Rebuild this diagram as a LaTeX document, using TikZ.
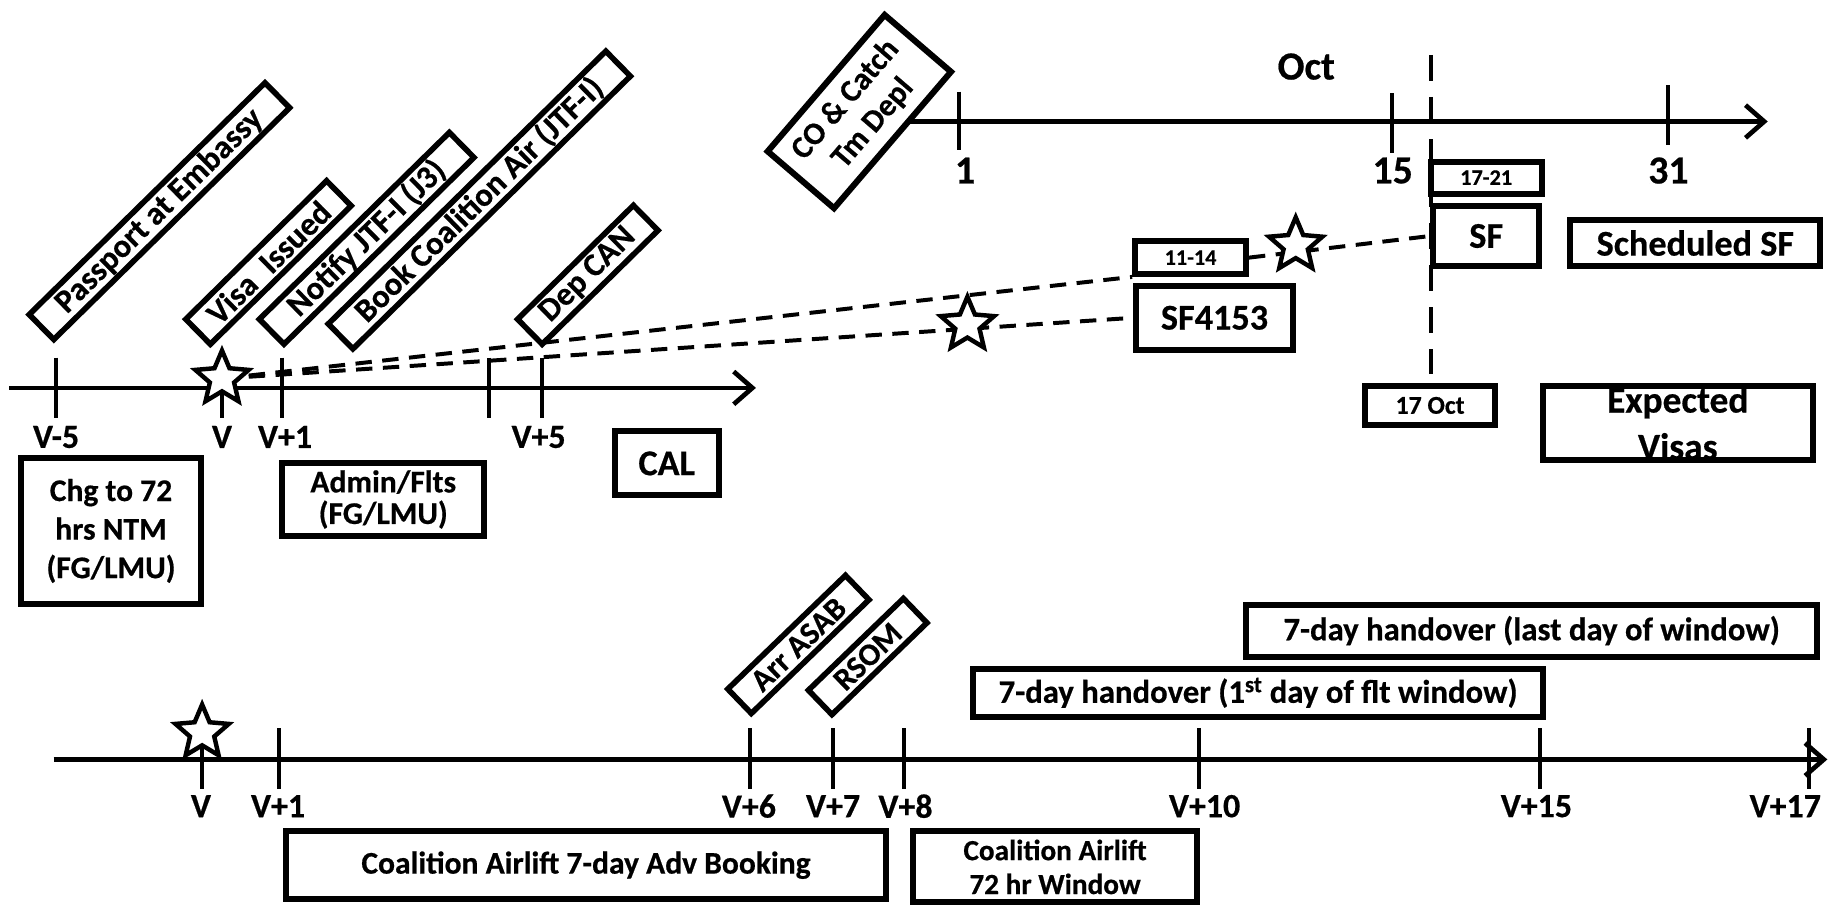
\documentclass[tikz,border=0pt]{standalone}
\usepackage{fontspec}
\setmainfont{Carlito}[BoldFeatures={FakeBold=0.5}]
\usetikzlibrary{arrows.meta,shapes.geometric,backgrounds,calc}
\tikzset{
  fs/.style={font=\fontsize{#1}{#1}\selectfont\bfseries},
  fsl/.style 2 args={font=\fontsize{#1}{#2}\selectfont\bfseries},
  bx/.style={draw, line width=5.2pt, fill=white, inner sep=0pt, align=center},
  dbox/.style={bx, line width=4.8pt, rotate=44.5, anchor=south west, minimum height=30pt, fs=28},
  lbox/.style={bx, line width=4.8pt, rotate=44, anchor=south west, minimum height=29pt, fs=27},
  lbl/.style={fs=#1, inner sep=0pt},
  axisline/.style={line width=4pt, -{Straight Barb[length=16pt,width=28pt,line width=4pt]}},
  tk/.style={line width=3.4pt},
  dashln/.style={line width=3.4pt, dash pattern=on 14pt off 9pt},
  vdash/.style={line width=3.4pt, dash pattern=on 22pt off 14pt},
  starn/.style={star, star points=5, star point ratio=2.2, minimum size=48pt, inner sep=0pt, draw, fill=white, line width=3.8pt}
}
\begin{document}
\begin{tikzpicture}[x=1pt,y=-1pt]
\useasboundingbox (0,0) rectangle (1568,775.4);

% ---------- coordinates of axes ----------
\coordinate (a1s) at (8,332);    \coordinate (a1e) at (647,332);
\coordinate (a2s) at (735.5,104); \coordinate (a2e) at (1513,104);
\coordinate (a3s) at (46,650);   \coordinate (a3e) at (1564,650);
\coordinate (vtop) at (1224.5,47); \coordinate (vbot) at (1224.5,320);

% ---------- stars ----------
\node[starn] (vstar) at (190,324) {};
\node[starn] (s2) at (828,278) {};
\node[starn] (s3) at (1109,210) {};
\node[starn] (bstar) at (173,627) {};

% ---------- diagonal boxes (top left) ----------
\node[dbox, minimum width=283pt] (passport) at (46,294) {Passport at Embassy};
\node[dbox, minimum width=169pt] (visa) at (180,298) {Visa\enspace Issued};
\node[dbox, minimum width=228pt] (notify) at (243,298) {Notify JTF-I (J3)};
\node[dbox, minimum width=333pt] (book) at (302,302) {Book Coalition Air (JTF-I)};
\node[dbox, minimum width=139pt] (depcan) at (464,298) {Dep CAN};

% ---------- CO box ----------
\node[bx, fsl={27}{31}, rotate=49.4, minimum width=153.8pt, minimum height=74.8pt] (co) at (735.5,95.5) {CO \& Catch\\Tm Depl};

% ---------- boxes ----------
\node[bx, fs=19, minimum width=94.8pt, minimum height=27.8pt] (b1114) at (1019,220.5) {11-14};
\node[bx, fs=31, minimum width=133.8pt, minimum height=54.8pt] (sf4153) at (1039.5,272) {SF4153};
\node[bx, fs=19, minimum width=94.8pt, minimum height=27.3pt] (b1721) at (1272,152) {17-21};
\node[bx, fs=31, minimum width=90.8pt, minimum height=50.8pt] (sf) at (1272,202) {SF};
\node[bx, fs=31, minimum width=213.8pt, minimum height=38.8pt] (schedsf) at (1451,208) {Scheduled SF};
\node[bx, fs=22, minimum width=110.8pt, minimum height=32.8pt] (oct17) at (1224,347) {17 Oct};
\node[bx, minimum width=230.8pt, minimum height=62.8pt] (expvis) at (1436,362) {};
\node[fsl={32}{40}, align=center, inner sep=0pt] (expvistxt) at (1436,362) {Expected\\Visas};
\node[bx, fs=31, minimum width=88.9pt, minimum height=54.8pt] (cal) at (570.6,396.6) {CAL};
\node[bx, fsl={27}{33}, minimum width=153.7pt, minimum height=124.6pt] (chg) at (95,454.4) {Chg to 72\\hrs NTM\\(FG/LMU)};
\node[bx, fsl={27}{27}, minimum width=172.8pt, minimum height=61.8pt] (admin) at (328,427.5) {Admin/Flts\\(FG/LMU)};

% ---------- bottom boxes ----------
\node[bx, fs=27, minimum width=513.8pt, minimum height=57.8pt] (coal7) at (501.5,740.5) {Coalition Airlift 7-day Adv Booking};
\node[bx, fsl={25}{29}, minimum width=242.8pt, minimum height=60.8pt] (coal72) at (903,742) {Coalition Airlift\\72 hr Window};
\node[bx, fs=28, minimum width=488.4pt, minimum height=40.8pt] (h1st) at (1076.8,593) {7-day handover (1\textsuperscript{st} day of flt window)};
\node[bx, fs=28, minimum width=489.1pt, minimum height=44.3pt] (hlast) at (1310.9,539.8) {7-day handover (last day of window)};
\node[lbox, minimum width=140pt] (arrasab) at (643,614) {Arr ASAB};
\node[lbox, minimum width=113pt] (rsom) at (712,615) {RSOM};

% ---------- axis labels ----------
\node[lbl=29] (lvm5) at (48,374) {V-5};
\node[lbl=29] (lv) at (190,374) {V};
\node[lbl=29] (lvp1) at (244,374) {V+1};
\node[lbl=29] (lvp5) at (461,374) {V+5};
\node[lbl=34] (loct) at (1118,57) {Oct};
\node[lbl=34] (l1) at (826,146) {1};
\node[lbl=34] (l15) at (1192,146) {15};
\node[lbl=34] (l31) at (1428,146) {31};
\node[lbl=29] (bv) at (172,690) {V};
\node[lbl=29] (bv1) at (238,690) {V+1};
\node[lbl=29] (bv6) at (641,690) {V+6};
\node[lbl=29] (bv7) at (713,690) {V+7};
\node[lbl=29] (bv8) at (775,690) {V+8};
\node[lbl=29] (bv10) at (1031,690) {V+10};
\node[lbl=29] (bv15) at (1315,690) {V+15};
\node[lbl=29] (bv17) at (1528,690) {V+17};

\begin{pgfonlayer}{background}
  % axes
  \draw[axisline] (a1s) -- (a1e);
  \draw[axisline] (a2s) -- (a2e);
  \draw[axisline] (a3s) -- (a3e);
  % ticks top-left
  \foreach \x in {48,241.5,418.5,464} \draw[tk] (\x,306) -- (\x,358);
  \draw[tk] (vstar.center) -- (190,358);
  % ticks Oct
  \draw[tk] (820.5,78.5) -- (820.5,128.4);
  \draw[tk] (1191,80) -- (1191,131);
  \draw[tk] (1428,73) -- (1428,124);
  % ticks bottom
  \foreach \x in {238.5,641.5,713,773.5,1026,1318,1548.6} \draw[tk] (\x,623.5) -- (\x,675);
  \draw[tk] (bstar.center) -- (173,675);
  % dashed
  \draw[vdash] (vtop) -- (vbot);
  \draw[dashln] (vstar.center) -- (b1114.south west);
  \draw[dashln] (b1114.east) -- (sf.west);
  \draw[dashln] (vstar.center) -- (sf4153.west);
\end{pgfonlayer}
\end{tikzpicture}
\end{document}
